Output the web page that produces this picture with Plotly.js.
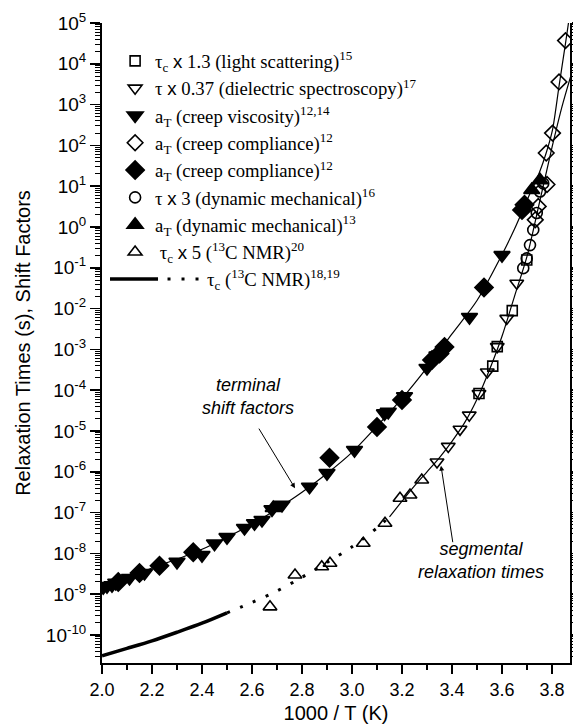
<!DOCTYPE html>
<html>
<head>
<meta charset="utf-8">
<script src="https://cdn.plot.ly/plotly-3.0.1.min.js"></script>
<style>html,body{margin:0;padding:0;background:#fff}#chart{width:573px;height:724px}</style>
</head>
<body>
<div id="chart"></div>
<script>
// ---- data (x = 1000/T in 1/K, y in s) ----
const lsX = [3.699, 3.641, 3.581, 3.563, 3.508];
const lsY = [0.155, 8.9e-3, 1.17e-3, 3.9e-4, 8.3e-5];

const dsX = [3.659, 3.619, 3.581, 3.541, 3.508, 3.469, 3.432, 3.385, 3.340];
const dsY = [0.042, 5.75e-3, 1.17e-3, 2.8e-4, 8.3e-5, 2.45e-5, 1.1e-5, 4.2e-6, 1.74e-6];

const cvX = [2.005, 2.02, 2.04, 2.055, 2.11, 2.17, 2.30, 2.40, 2.45, 2.50, 2.57, 2.61, 2.64, 2.68, 2.72, 2.83, 2.90, 3.01, 3.13, 3.145, 3.21, 3.30, 3.34, 3.47, 3.60];
const cvY = [1.48e-9, 1.58e-9, 1.66e-9, 1.9e-9, 2.5e-9, 3.3e-9, 6.2e-9, 9.1e-9, 1.74e-8, 2.5e-8, 4.2e-8, 5.5e-8, 6.6e-8, 1.2e-7, 1.55e-7, 4.3e-7, 9.3e-7, 3.4e-6, 2.7e-5, 2.95e-5, 7.1e-5, 3.5e-4, 7.1e-4, 6.2e-3, 0.204];

const ccOpenX = [3.733, 3.745, 3.780, 3.777, 3.802, 3.828, 3.854];
const ccOpenY = [1.5, 3.2, 11, 65, 200, 3600, 37000];

const ccX = [2.065, 2.15, 2.23, 2.365, 2.91, 3.10, 3.20, 3.32, 3.35, 3.37, 3.528, 3.68, 3.69];
const ccY = [2.0e-9, 3.3e-9, 5.0e-9, 1.07e-8, 2.2e-6, 1.26e-5, 5.75e-5, 5.5e-4, 7.9e-4, 1.15e-3, 0.033, 2.6, 3.5];

const dmX = [3.685, 3.699, 3.712, 3.725, 3.739, 3.752, 3.765];
const dmY = [0.098, 0.17, 0.36, 0.85, 2.2, 7.4, 11.7];

const dmaX = [2.685, 3.719, 3.752];
const dmaY = [1.3e-7, 8.1, 14];

const nmrX = [3.279, 3.232, 3.192, 3.132, 3.045, 2.912, 2.879, 2.772, 2.672];
const nmrY = [6.3e-7, 2.7e-7, 2.24e-7, 5.5e-8, 1.78e-8, 5.75e-9, 4.7e-9, 2.95e-9, 4.9e-10];

// fitted curves
const termFitX = [2.0, 2.1, 2.2, 2.3, 2.4, 2.5, 2.6, 2.7, 2.8, 2.9, 3.0, 3.1, 3.2, 3.3, 3.4, 3.5, 3.6, 3.65, 3.7, 3.75, 3.777, 3.802, 3.828, 3.854, 3.872];
const termFitY = [1.35e-9, 2.4e-9, 4.4e-9, 7.2e-9, 1.26e-8, 2.5e-8, 5.2e-8, 1.23e-7, 3.16e-7, 9.1e-7, 3.0e-6, 1.32e-5, 6.3e-5, 3.6e-4, 2.4e-3, 0.0158, 0.21, 0.89, 4.5, 22, 66, 240, 2800, 31600, 1.8e5];

const segFitX = [3.15, 3.2, 3.25, 3.3, 3.35, 3.4, 3.45, 3.5, 3.55, 3.6, 3.65, 3.7, 3.75, 3.8, 3.84, 3.875];
const segFitY = [7.9e-8, 1.9e-7, 4.5e-7, 1.0e-6, 2.24e-6, 5.6e-6, 1.58e-5, 6.0e-5, 3.16e-4, 2.1e-3, 0.02, 0.19, 4.0, 89, 890, 5000];

const nmrSolidX = [2.0, 2.1, 2.2, 2.3, 2.4, 2.5];
const nmrSolidY = [3.1e-11, 4.7e-11, 7.2e-11, 1.17e-10, 1.95e-10, 3.5e-10];

const nmrDotX = [2.5, 2.6, 2.7, 2.8, 2.9, 3.0, 3.1, 3.15];
const nmrDotY = [3.5e-10, 6.3e-10, 1.2e-9, 2.6e-9, 6.0e-9, 1.45e-8, 4.2e-8, 7.9e-8];

const xTickVals = [2.0, 2.2, 2.4, 2.6, 2.8, 3.0, 3.2, 3.4, 3.6, 3.8];
const xTickText = ['2.0', '2.2', '2.4', '2.6', '2.8', '3.0', '3.2', '3.4', '3.6', '3.8'];

const yTickVals = [1e-10, 1e-9, 1e-8, 1e-7, 1e-6, 1e-5, 1e-4, 1e-3, 1e-2, 1e-1, 1, 10, 100, 1e3, 1e4, 1e5];
const yTickText = ['10<sup>-10</sup>', '10<sup>-9</sup>', '10<sup>-8</sup>', '10<sup>-7</sup>', '10<sup>-6</sup>',
                   '10<sup>-5</sup>', '10<sup>-4</sup>', '10<sup>-3</sup>', '10<sup>-2</sup>', '10<sup>-1</sup>',
                   '10<sup>0</sup>', '10<sup>1</sup>', '10<sup>2</sup>', '10<sup>3</sup>', '10<sup>4</sup>', '10<sup>5</sup>'];

const legendNames = [
  'τ<sub>c</sub> <span style="font-family:Liberation Sans">x</span> 1.3 (light scattering)<sup>15</sup>',
  'τ <span style="font-family:Liberation Sans">x</span> 0.37 (dielectric spectroscopy)<sup>17</sup>',
  'a<sub>T</sub> (creep viscosity)<sup>12,14</sup>',
  'a<sub>T</sub> (creep compliance)<sup>12</sup>',
  'a<sub>T</sub> (creep compliance)<sup>12</sup>',
  'τ <span style="font-family:Liberation Sans">x</span> 3 (dynamic mechanical)<sup>16</sup>',
  'a<sub>T</sub> (dynamic mechanical)<sup>13</sup>',
  '\u00a0τ<sub>c</sub> <span style="font-family:Liberation Sans">x</span> 5 (<sup>13</sup>C NMR)<sup>20</sup>',
  'τ<sub>c</sub> (<sup>13</sup>C NMR)<sup>18,19</sup>'
];

// ---- traces ----
const K = '#000';
function lineTrace(x, y, w, dash) {
  return {x: x, y: y, mode: 'lines', type: 'scatter', showlegend: false, hoverinfo: 'skip',
          line: {color: K, width: w, dash: dash || 'solid', shape: 'spline', smoothing: 0.8}};
}
function markTrace(x, y, name, symbol, size, g) {
  return {x: x, y: y, mode: 'markers', type: 'scatter', name: name, legendgroup: g,
          marker: {symbol: symbol, size: size, color: K, line: {color: K, width: 1.6}}};
}

const traces = [
  lineTrace(termFitX, termFitY, 1.2),
  lineTrace(segFitX, segFitY, 1.2),
  lineTrace(nmrSolidX, nmrSolidY, 3.5),
  lineTrace(nmrDotX, nmrDotY, 3, '3px,11px'),
  markTrace(lsX, lsY, legendNames[0], 'square-open', 10, 'g1'),
  markTrace(dsX, dsY, legendNames[1], 'triangle-down-open', 12, 'g2'),
  markTrace(cvX, cvY, legendNames[2], 'triangle-down', 14, 'g3'),
  markTrace(ccOpenX, ccOpenY, legendNames[3], 'diamond-open', 12, 'g4'),
  markTrace(ccX, ccY, legendNames[4], 'diamond', 14, 'g5'),
  markTrace(dmX, dmY, legendNames[5], 'circle-open', 11, 'g6'),
  markTrace(dmaX, dmaY, legendNames[6], 'triangle-up', 14, 'g7'),
  markTrace(nmrX, nmrY, legendNames[7], 'triangle-up-open', 12, 'g8')
];

const sans = 'Liberation Sans, Arial, sans-serif';
const serif = 'Liberation Serif, Times New Roman, serif';

const layout = {
  width: 573, height: 724,
  margin: {l: 102, r: 3, t: 23, b: 61},
  paper_bgcolor: '#fff', plot_bgcolor: '#fff',
  font: {family: sans, color: K, size: 17},
  showlegend: true,
  legend: {x: 0.028, y: 0.970, xanchor: 'left', yanchor: 'top',
           bgcolor: 'rgba(0,0,0,0)', borderwidth: 0,
           font: {family: serif, size: 18.7, color: K},
           traceorder: 'grouped', tracegroupgap: 0},
  xaxis: {range: [2.0, 3.872], tickmode: 'array', tickvals: xTickVals, ticktext: xTickText,
          ticks: 'outside', ticklen: 9, tickwidth: 1.5, tickcolor: K,
          minor: {dtick: 0.1, ticks: 'outside', ticklen: 5, tickwidth: 1.5, tickcolor: K, showgrid: false},
          showline: true, linewidth: 2, linecolor: K, mirror: false,
          showgrid: false, zeroline: false,
          tickfont: {family: sans, size: 18},
          title: {text: '1000 / T (K)', font: {family: sans, size: 20}, standoff: 7}},
  xaxis2: {overlaying: 'x', side: 'top', anchor: 'y', range: [2.0, 3.872],
           tickmode: 'linear', tick0: 2.0, dtick: 0.2,
           ticks: 'inside', ticklen: 7, tickwidth: 1.5, tickcolor: K,
           minor: {dtick: 0.1, ticks: 'inside', ticklen: 5, tickwidth: 1.5, tickcolor: K, showgrid: false},
           showticklabels: false, showline: true, linewidth: 2, linecolor: K,
           showgrid: false, zeroline: false},
  yaxis: {type: 'log', range: [-10.686, 5], tickmode: 'array', tickvals: yTickVals, ticktext: yTickText,
          ticks: 'outside', ticklen: 10, tickwidth: 1.5, tickcolor: K,
          minor: {dtick: 'D1', ticks: 'outside', ticklen: 5, tickwidth: 1, tickcolor: K, showgrid: false},
          showline: true, linewidth: 2, linecolor: K, mirror: 'ticks',
          showgrid: false, zeroline: false,
          tickfont: {family: sans, size: 19},
          title: {text: 'Relaxation Times (s), Shift Factors', font: {family: sans, size: 20}, standoff: 10}},
  shapes: [
    {type: 'line', xref: 'paper', yref: 'paper', x0: 0.0171, x1: 0.1197, y0: 0.6, y1: 0.6,
     line: {color: K, width: 3.5}},
    {type: 'line', xref: 'paper', yref: 'paper', x0: 0.140, x1: 0.210, y0: 0.6, y1: 0.6,
     line: {color: K, width: 3, dash: '3px,11px'}}
  ],
  annotations: [
    {xref: 'paper', yref: 'paper', x: 0.22, y: 0.6, xanchor: 'left', yanchor: 'middle',
     text: legendNames[8], showarrow: false, font: {family: serif, size: 18.7, color: K}},
    {xref: 'paper', yref: 'paper', x: 0.312, y: 0.416, xanchor: 'center', yanchor: 'middle',
     text: '<i>terminal</i><br><i>shift factors</i>', showarrow: false,
     font: {family: sans, size: 18, color: K}},
    {xref: 'paper', yref: 'paper', x: 0.81, y: 0.16, xanchor: 'center', yanchor: 'middle',
     text: '<i>segmental</i><br><i>relaxation times</i>', showarrow: false,
     font: {family: sans, size: 18, color: K}},
    {xref: 'x', yref: 'y', x: 2.772, y: -6.40, ax: -37, ay: -61, text: '', showarrow: true,
     arrowhead: 2, arrowsize: 1, arrowwidth: 1, arrowcolor: K},
    {xref: 'x', yref: 'y', x: 3.356, y: -5.85, ax: 12, ay: 78, text: '', showarrow: true,
     arrowhead: 2, arrowsize: 1, arrowwidth: 1, arrowcolor: K}
  ]
};

Plotly.newPlot('chart', traces, layout, {displayModeBar: false, staticPlot: true});
</script>
</body>
</html>
